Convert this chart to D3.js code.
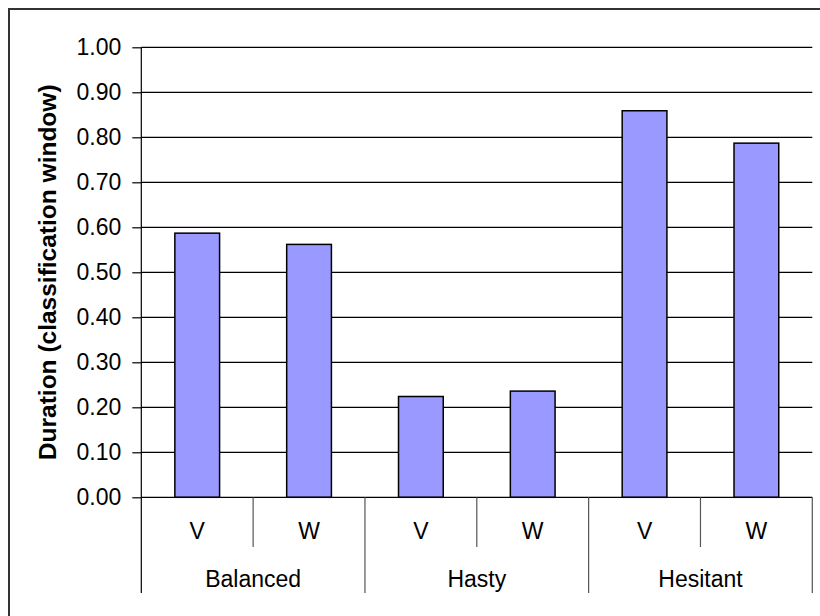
<!DOCTYPE html>
<html>
<head>
<meta charset="utf-8">
<script src="https://cdn.jsdelivr.net/npm/d3@7"></script>
<style>
  html, body { margin: 0; padding: 0; background: #fff; }
  svg { display: block; font-family: Arial, "Liberation Sans", sans-serif; }
</style>
</head>
<body>
<svg id="chart" width="820" height="616"></svg>
<script>
// Data
const groups = ["Balanced", "Hasty", "Hesitant"];
const subs = ["V", "W"];
const values = [0.587, 0.562, 0.224, 0.236, 0.859, 0.787];
const yTicks = [0, 0.1, 0.2, 0.3, 0.4, 0.5, 0.6, 0.7, 0.8, 0.9, 1.0];
const yTitle = "Duration (classification window)";

(function () {
const svg = d3.select("#chart");
const pL = 141.3, pR = 812.3, pT = 47.3, pB = 497.3;

// outer frame (extends past the visible image on right/bottom)
svg.append("rect")
  .attr("x", 9).attr("y", 9).attr("width", 830).attr("height", 630)
  .attr("fill", "#fff").attr("stroke", "#333").attr("stroke-width", 2);

const slots = [];
groups.forEach(g => subs.forEach(s => slots.push(g + "|" + s)));

const x = d3.scaleBand().domain(slots).range([pL, pR]).paddingInner(0.6).paddingOuter(0.3);
const xg = d3.scaleBand().domain(groups).range([pL, pR]);
const y = d3.scaleLinear().domain([0, 1]).range([pB, pT]);

// gridlines
svg.append("g").selectAll("line").data(yTicks.filter(d => d > 0)).join("line")
  .attr("x1", pL).attr("x2", pR)
  .attr("y1", d => y(d)).attr("y2", d => y(d))
  .attr("stroke", "#000").attr("stroke-width", 1.2);

// y axis
const yAxis = d3.axisLeft(y).tickValues(yTicks).tickFormat(d3.format(".2f")).tickSize(9).tickPadding(11);
const ya = svg.append("g").attr("transform", `translate(${pL},0)`).call(yAxis);
ya.select(".domain").remove();
ya.selectAll(".tick line").attr("stroke", "#000").attr("stroke-width", 1.2);
ya.selectAll(".tick text").attr("font-size", 23).attr("fill", "#000")
  .attr("font-family", "Arial, 'Liberation Sans', sans-serif");

// bars
svg.append("g").selectAll("rect").data(values).join("rect")
  .attr("x", (d, i) => x(slots[i]))
  .attr("width", x.bandwidth())
  .attr("y", d => y(d))
  .attr("height", d => y(0) - y(d))
  .attr("fill", "#9999FF")
  .attr("stroke", "#000").attr("stroke-width", 1.5);

// y axis line (extends down through category area)
svg.append("line").attr("x1", pL).attr("x2", pL).attr("y1", pT).attr("y2", 593)
  .attr("stroke", "#000").attr("stroke-width", 1.2);
// x axis line
svg.append("line").attr("x1", pL).attr("x2", pR).attr("y1", pB).attr("y2", pB)
  .attr("stroke", "#000").attr("stroke-width", 1.2);

// sub-category dividers
const subDiv = groups.map(g => xg(g) + xg.bandwidth() / 2);
svg.append("g").selectAll("line").data(subDiv).join("line")
  .attr("x1", d => d).attr("x2", d => d).attr("y1", pB).attr("y2", 547)
  .attr("stroke", "#555").attr("stroke-width", 1.2);
// group dividers
const grpDiv = groups.slice(1).map(g => xg(g)).concat([pR]);
svg.append("g").selectAll("line").data(grpDiv).join("line")
  .attr("x1", d => d).attr("x2", d => d).attr("y1", pB).attr("y2", 593)
  .attr("stroke", "#555").attr("stroke-width", 1.2);

// sub labels
svg.append("g").selectAll("text").data(slots).join("text")
  .attr("x", d => x(d) + x.bandwidth() / 2)
  .attr("y", 539)
  .attr("text-anchor", "middle")
  .attr("font-size", 23)
  .text(d => d.split("|")[1]);

// group labels
svg.append("g").selectAll("text").data(groups).join("text")
  .attr("x", d => xg(d) + xg.bandwidth() / 2)
  .attr("y", 586.5)
  .attr("text-anchor", "middle")
  .attr("font-size", 23)
  .text(d => d);

// y title
svg.append("text")
  .attr("transform", `translate(56, ${(pT + pB) / 2}) rotate(-90)`)
  .attr("text-anchor", "middle")
  .attr("font-size", 24.5)
  .attr("font-weight", "bold")
  .text(yTitle);
})();
</script>
</body>
</html>
